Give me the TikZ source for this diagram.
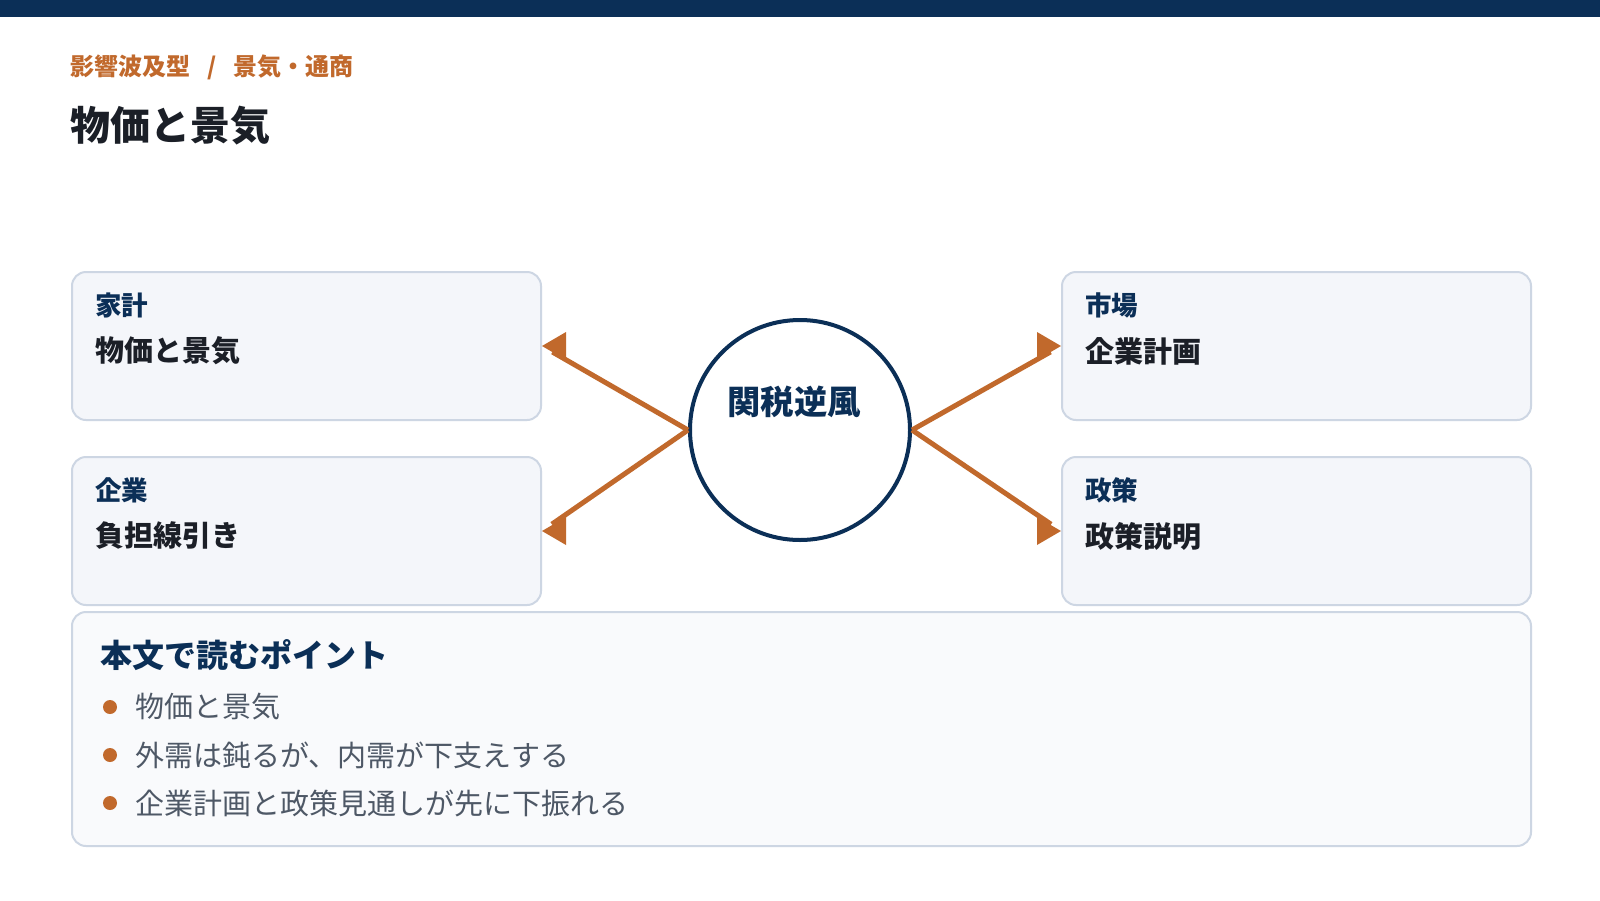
\documentclass[tikz,border=0pt]{standalone}
\usepackage{fontspec}
\setmainfont{Noto Sans CJK JP}
\definecolor{navy}{HTML}{0B2F57}
\definecolor{accent}{HTML}{C1692C}
\definecolor{boxfill}{HTML}{F4F6FA}
\definecolor{boxline}{HTML}{CDD6E3}
\definecolor{notefill}{HTML}{F9FAFC}
\definecolor{ink}{HTML}{1B1F27}
\definecolor{muted}{HTML}{4E5866}
\tikzset{
  panel/.style={draw=boxline, line width=2pt, fill=boxfill, rounded corners=14pt, inner sep=0pt},
  notepanel/.style={draw=boxline, line width=2pt, fill=notefill, rounded corners=14pt, inner sep=0pt},
  lbl/.style={anchor=west, inner sep=0pt, text=navy, font=\fontsize{26.5pt}{30pt}\selectfont\bfseries},
  val/.style={anchor=west, inner sep=0pt, text=ink, font=\fontsize{29pt}{33pt}\selectfont\bfseries},
  bullet/.style={circle, fill=accent, inner sep=0pt, minimum size=14pt},
  btext/.style={anchor=west, inner sep=0pt, text=muted, font=\fontsize{29pt}{33pt}\selectfont},
  flow/.style={draw=accent, line width=5pt, shorten >=12pt},
  headl/.style={fill=accent},
}
\begin{document}
\begin{tikzpicture}[x=1pt, y=-1pt]
\useasboundingbox (0,0) rectangle (1600,900);
\fill[white] (0,0) rectangle (1600,900);
\fill[navy] (0,0) rectangle (1600,17);
% header
\node[anchor=west, inner sep=0pt, text=accent, font=\fontsize{24pt}{28pt}\selectfont\bfseries] (crumb) at (70,67) {影響波及型\hspace{17pt}/\hspace{17pt}景気・通商};
\node[anchor=west, inner sep=0pt, text=ink, font=\fontsize{40pt}{46pt}\selectfont\bfseries] (title) at (70,126) {物価と景気};
% panels
\node[panel, minimum width=469pt, minimum height=148pt, anchor=north west] (b1) at (71,271) {};
\node[panel, minimum width=469pt, minimum height=148pt, anchor=north west] (b2) at (71,456) {};
\node[panel, minimum width=469pt, minimum height=148pt, anchor=north west] (b3) at (1061,271) {};
\node[panel, minimum width=469pt, minimum height=148pt, anchor=north west] (b4) at (1061,456) {};
\node[lbl] (l1) at (95,305) {家計};
\node[val] (v1) at (95,351) {物価と景気};
\node[lbl] (l2) at (95,490) {企業};
\node[val] (v2) at (95,536) {負担線引き};
\node[lbl] (l3) at (1085,305) {市場};
\node[val] (v3) at (1085,351) {企業計画};
\node[lbl] (l4) at (1085,490) {政策};
\node[val] (v4) at (1085,536) {政策説明};
% hub
\node[circle, draw=navy, line width=4pt, fill=white, minimum size=220pt, inner sep=0pt] (hub) at (800,430) {};
\node[inner sep=0pt, text=navy, font=\fontsize{33.3pt}{38pt}\selectfont\bfseries] (hubtext) at (794,402) {関税逆風};
\draw[flow] (hub.west) -- (b1.east);
\draw[flow] (hub.west) -- (b2.east);
\draw[flow] (hub.east) -- (b3.west);
\draw[flow] (hub.east) -- (b4.west);
\fill[headl] (b1.east) -- ++(24,-14) -- ++(0,28) -- cycle;
\fill[headl] (b2.east) -- ++(24,-14) -- ++(0,28) -- cycle;
\fill[headl] (b3.west) -- ++(-24,-14) -- ++(0,28) -- cycle;
\fill[headl] (b4.west) -- ++(-24,-14) -- ++(0,28) -- cycle;
% notes
\node[notepanel, minimum width=1459pt, minimum height=234pt, anchor=north west] (notes) at (71,611) {};
\node[anchor=west, inner sep=0pt, text=navy, font=\fontsize{32pt}{36pt}\selectfont\bfseries] (nh) at (100,655) {本文で読むポイント};
\node[bullet] (d1) at (110,707) {};
\node[btext] (t1) at (135,707) {物価と景気};
\node[bullet] (d2) at (110,755) {};
\node[btext] (t2) at (135,755) {外需は鈍るが、内需が下支えする};
\node[bullet] (d3) at (110,803) {};
\node[btext] (t3) at (135,803) {企業計画と政策見通しが先に下振れる};
\end{tikzpicture}
\end{document}
